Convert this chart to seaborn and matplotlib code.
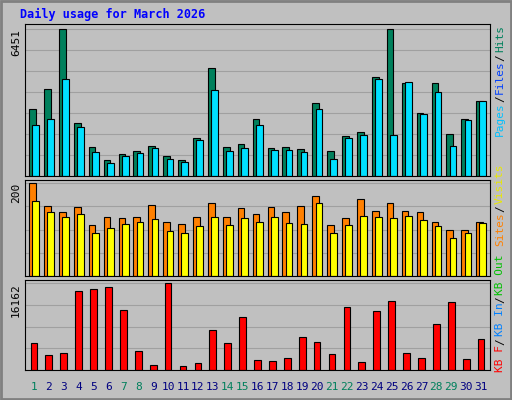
import matplotlib
matplotlib.use("Agg")
import matplotlib.pyplot as plt
import seaborn as sns
import pandas as pd
import numpy as np

days = list(range(1, 32))
weekend = [1, 7, 8, 14, 15, 21, 22, 28, 29]
hits = [2960, 3830, 6451, 2330, 1270, 700, 970, 1100, 1310, 880, 700, 1660, 4740, 1280, 1400, 2500, 1230, 1280, 1200, 3220, 1100, 1760, 1930, 4350, 6451, 4090, 2770, 4090, 1840, 2500, 3310]
pages = [2240, 2500, 4260, 2150, 1050, 570, 880, 1010, 1230, 760, 610, 1580, 3790, 1100, 1230, 2240, 1140, 1140, 1050, 2940, 760, 1670, 1800, 4260, 1800, 4130, 2720, 3700, 1320, 2460, 3290]
sites = [200, 150, 137, 148, 111, 128, 124, 128, 154, 117, 113, 128, 157, 128, 146, 133, 148, 137, 152, 172, 111, 124, 165, 141, 157, 141, 139, 117, 100, 100, 117]
visits = [161, 137, 128, 133, 93, 104, 113, 117, 122, 98, 93, 107, 128, 109, 124, 117, 128, 115, 113, 157, 93, 109, 130, 128, 124, 130, 120, 107, 83, 93, 115]
kbf = [5070, 2820, 3190, 14660, 15030, 15410, 11080, 3570, 940, 16162, 750, 1320, 7520, 5070, 9770, 1880, 1690, 2250, 6200, 5260, 3010, 11650, 1500, 10900, 12780, 3190, 2250, 8640, 12590, 2070, 5830]

BG = "#C0C0C0"
fig = plt.figure(figsize=(5.12, 4.0), dpi=100, facecolor=BG)
W, H = 512, 400
def axrect(x0, y0, x1, y1):
    return [x0 / W, 1 - y1 / H, (x1 - x0) / W, (y1 - y0) / H]

ax1 = fig.add_axes(axrect(25, 24, 490, 176))
ax2 = fig.add_axes(axrect(25, 180, 490, 276))
ax3 = fig.add_axes(axrect(25, 280, 490, 370))

df = pd.DataFrame({"day": days, "hits": hits, "pages": pages, "sites": sites, "visits": visits, "kbf": kbf})
mono = "DejaVu Sans Mono"

def pair(ax, back, front, cb, cf, top):
    sns.barplot(data=df, x="day", y=back, color=cb, edgecolor="black", linewidth=0.8,
                width=0.45, saturation=1, ax=ax)
    n = len(ax.patches)
    for p in ax.patches[:n]:
        p.set_x(p.get_x() - 0.1)
    sns.barplot(data=df, x="day", y=front, color=cf, edgecolor="black", linewidth=0.8,
                width=0.45, saturation=1, ax=ax)
    for p in ax.patches[n:]:
        p.set_x(p.get_x() + 0.12)
    ax.set_ylim(0, top * 1.035)

pair(ax1, "hits", "pages", "#00805C", "#00E0FF", 6451)
pair(ax2, "sites", "visits", "#FF8000", "#FFFF00", 200)
sns.barplot(data=df, x="day", y="kbf", color="#FF0000", edgecolor="black", linewidth=0.8,
            width=0.45, saturation=1, ax=ax3)
ax3.set_ylim(0, 16162 * 1.035)

for ax, top in [(ax1, 6451), (ax2, 200), (ax3, 16162)]:
    ax.set_facecolor(BG)
    ax.set_xlim(-0.6, 30.6)
    ax.set_xlabel("")
    ax.set_ylabel("")
    ax.tick_params(axis="y", length=0, pad=3)
    ax.grid(axis="y", color="#A0A0A0", linewidth=0.8)
    ax.set_axisbelow(True)
    for s in ax.spines.values():
        s.set_color("black")
        s.set_linewidth(0.8)
    if ax is not ax3:
        ax.set_xticks([])
ax1.set_yticks(np.linspace(0, 6451, 8)[1:])
ax1.set_yticklabels([""] * 6 + ["6451"], rotation=90, va="top", family=mono, fontsize=8)
ax2.set_yticks(np.linspace(0, 200, 5)[1:])
ax2.set_yticklabels(["", "", "", "200"], rotation=90, va="top", family=mono, fontsize=8)
ax3.set_yticks(np.linspace(0, 16162, 5)[1:])
ax3.set_yticklabels(["", "", "", "16162"], rotation=90, va="top", family=mono, fontsize=8)

ax3.set_xticks(range(31))
ax3.set_xticklabels([str(d) for d in days], family=mono, fontsize=8)
ax3.tick_params(axis="x", length=0, pad=9)
for lbl, d in zip(ax3.get_xticklabels(), days):
    lbl.set_color("#00805C" if d in weekend else "#000080")

fig.text(20 / W, 1 - 14 / H, "Daily usage for March 2026", color="#0000FF",
         family=mono, fontweight="bold", fontsize=8.5, va="center")

def vlabel(parts, ybottom):
    y = ybottom
    ch = 6.3
    for txt, col in parts:
        fig.text(500 / W, 1 - y / H, txt, color=col, rotation=90, family=mono,
                 fontsize=8, ha="center", va="bottom")
        y -= ch * len(txt) + 2

vlabel([("Pages", "#00C0FF"), ("/", "black"), ("Files", "#0040FF"), ("/", "black"), ("Hits", "#00805C")], 136)
vlabel([("Sites", "#FF8000"), ("/", "black"), ("Visits", "#E8E800")], 246)
vlabel([("KB F", "#FF0000"), ("/", "black"), ("KB In", "#0080FF"), ("/", "black"), ("KB Out", "#00C000")], 372)

fig.patches.append(plt.Rectangle((0.002, 0.002), 0.996, 0.996, transform=fig.transFigure,
                                 fill=False, edgecolor="#808080", linewidth=2))
fig.savefig("out.png", dpi=100, facecolor=BG)
